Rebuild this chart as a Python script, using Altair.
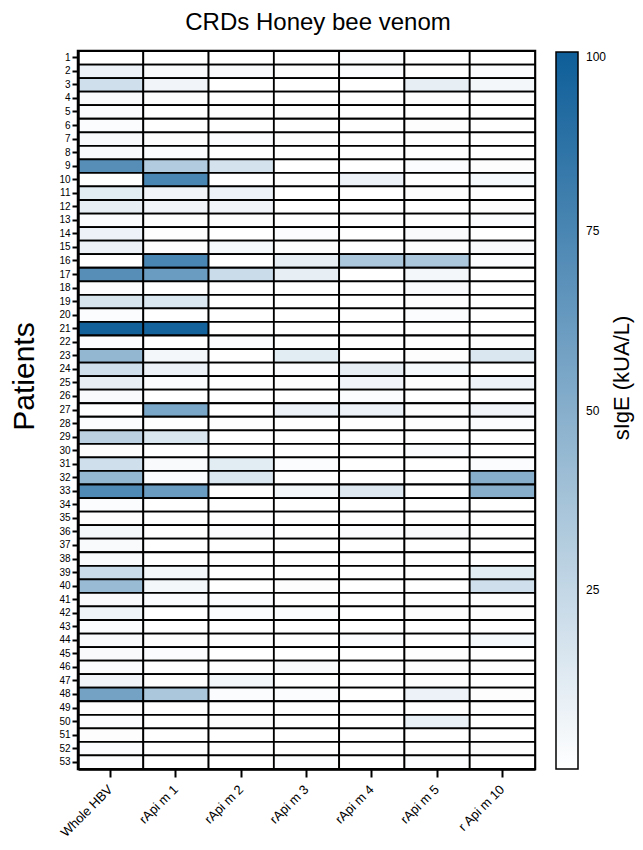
import altair as alt
import pandas as pd

patients = list(range(1, 54))
allergens = ["Whole HBV", "rApi m 1", "rApi m 2", "rApi m 3", "rApi m 4", "rApi m 5", "r Api m 10"]

whole_hbv = [0, 8, 20, 3, 2, 2, 3, 3, 70, 0,
             12, 10, 2, 8, 8, 0, 70, 2, 17, 2,
             98, 2, 45, 20, 10, 3, 0, 2, 28, 1,
             20, 45, 73, 2, 1, 5, 3, 3, 22, 42,
             3, 7, 2, 3, 3, 2, 6, 58, 1, 2,
             1, 2, 2]
rapi_m1 = [0, 3, 6, 1, 0, 0, 1, 2, 32, 75,
           6, 6, 1, 1, 1, 75, 62, 0, 15, 0,
           97, 0, 5, 8, 2, 0, 55, 0, 15, 0,
           3, 2, 62, 0, 0, 0, 0, 0, 5, 5,
           2, 0, 0, 1, 2, 0, 1, 35, 0, 0,
           0, 0, 0]
rapi_m2 = [0, 3, 0, 0, 1, 0, 2, 0, 18, 0,
           8, 6, 1, 0, 4, 0, 22, 0, 0, 0,
           0, 2, 0, 0, 0, 0, 0, 1, 0, 0,
           12, 15, 0, 0, 0, 2, 0, 0, 0, 0,
           2, 2, 0, 0, 0, 0, 5, 2, 0, 1,
           0, 0, 0]
rapi_m3 = [0, 1, 0, 0, 1, 0, 1, 0, 0, 1,
           0, 0, 0, 2, 1, 10, 10, 0, 0, 0,
           0, 0, 12, 2, 1, 0, 8, 0, 0, 0,
           2, 0, 5, 0, 0, 0, 0, 0, 0, 1,
           0, 2, 0, 0, 0, 3, 0, 2, 0, 0,
           0, 0, 2]
rapi_m4 = [2, 2, 0, 0, 0, 0, 0, 0, 0, 8,
           0, 0, 0, 0, 0, 35, 0, 0, 0, 0,
           0, 0, 0, 10, 6, 2, 8, 0, 0, 0,
           0, 0, 14, 0, 0, 2, 0, 0, 0, 0,
           0, 0, 0, 2, 0, 0, 0, 0, 0, 0,
           0, 0, 0]
rapi_m5 = [0, 0, 10, 1, 0, 1, 0, 0, 2, 0,
           1, 0, 0, 3, 1, 35, 5, 3, 1, 2,
           0, 0, 1, 4, 1, 0, 1, 1, 0, 2,
           0, 0, 0, 0, 0, 3, 0, 0, 0, 0,
           0, 1, 0, 0, 1, 1, 1, 8, 0, 9,
           0, 0, 2]
rapi_m10 = [0, 2, 5, 1, 0, 0, 0, 0, 1, 4,
            0, 1, 2, 0, 3, 2, 0, 0, 0, 0,
            0, 1, 15, 0, 8, 0, 6, 2, 0, 0,
            2, 50, 50, 0, 0, 0, 0, 0, 12, 20,
            1, 1, 0, 4, 0, 0, 0, 1, 0, 0,
            0, 1, 0]

series = [whole_hbv, rapi_m1, rapi_m2, rapi_m3, rapi_m4, rapi_m5, rapi_m10]
rows = []
for name, vals in zip(allergens, series):
    for p, v in zip(patients, vals):
        rows.append({"Patient": p, "Allergen": name, "sIgE": v})
df = pd.DataFrame(rows)

FONT = "Liberation Sans"

heat = alt.Chart(df).mark_rect(stroke="black", strokeWidth=1.8).encode(
    x=alt.X("Allergen:N", sort=allergens,
            axis=alt.Axis(title=None, labelAngle=315, labelAlign="right", labelBaseline="middle",
                          labelFontSize=13, labelPadding=10, tickSize=8, tickWidth=2,
                          labelFont=FONT, labelColor="black", domainColor="black", domainWidth=2.5,
                          tickColor="black")),
    y=alt.Y("Patient:O", sort=patients,
            axis=alt.Axis(title="Patients", titleFontSize=30, titleFontWeight="normal", titleFont=FONT,
                          titleAngle=270, titleX=-45, titleY=325, titleBaseline="alphabetic",
                          titleAlign="center", titleColor="black",
                          labelFontSize=10, labelPadding=2, tickSize=6, tickWidth=2,
                          labelFont=FONT, labelColor="black", domainColor="black", domainWidth=2.5,
                          tickColor="black")),
    color=alt.Color("sIgE:Q",
                    scale=alt.Scale(domain=[0, 100], range=["#ffffff", "#0e5e99"], interpolate="rgb"),
                    legend=alt.Legend(orient="none", legendX=478, legendY=1, direction="vertical",
                                      gradientLength=717, gradientThickness=22,
                                      gradientStrokeColor="black", gradientStrokeWidth=1.5,
                                      values=[25, 50, 75, 100], labelFontSize=12, labelOffset=8,
                                      labelFont=FONT, labelColor="black", title=None)),
)

legend_title = pd.DataFrame({"t": ["sIgE (kUA/L)"]})
ltitle = alt.Chart(legend_title).mark_text(angle=270, fontSize=22, font=FONT, color="black",
                                           align="center", baseline="alphabetic").encode(
    x=alt.value(551), y=alt.value(327), text="t:N")

main_title = pd.DataFrame({"t": ["CRDs Honey bee venom"]})
mtitle = alt.Chart(main_title).mark_text(fontSize=24, font=FONT, color="black",
                                         align="center", baseline="alphabetic").encode(
    x=alt.value(240), y=alt.value(-21), text="t:N")

chart = alt.layer(heat, ltitle, mtitle).properties(
    width=457, height=718,
    autosize=alt.AutoSizeParams(type="none"),
    padding={"left": 70, "top": 43, "right": 100, "bottom": 73},
).configure_view(stroke="black", strokeWidth=2.5)

chart.save("out.html", embed_options={"renderer": "svg", "actions": False})
